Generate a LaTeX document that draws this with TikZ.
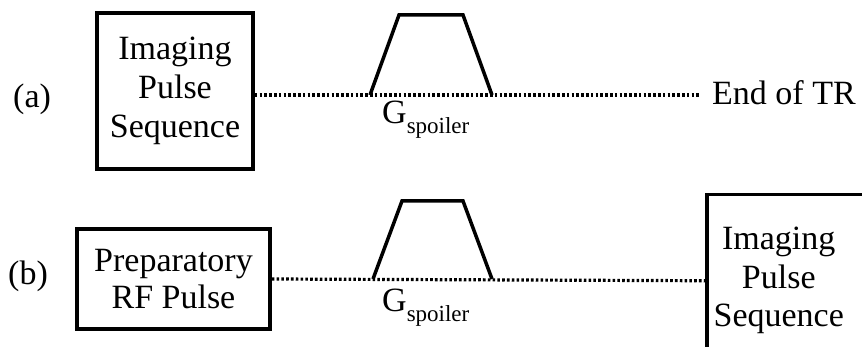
\documentclass[tikz,border=0pt]{standalone}
\usepackage{fontspec}
\setmainfont{Liberation Serif}
\begin{document}
\begin{tikzpicture}[x=1pt,y=1pt,
  big/.style={font=\fontsize{34}{39}\selectfont},
  boxnode/.style={draw, line width=3.5pt, big, align=center, inner sep=0pt},
  dotline/.style={line width=3.2pt, dash pattern=on 2.6pt off 2.2pt},
  trap/.style={line width=3.5pt, line join=miter},
  lbl/.style={big, anchor=base west, inner sep=0pt}]
\useasboundingbox (0,0) rectangle (862,347);
\clip (0,0) rectangle (862,347);
% (a)
\node[lbl] (la) at (13,239) {(a)};
\node[boxnode, minimum width=156pt, minimum height=156pt] (boxa) at (175,256)
  {Imaging\\Pulse\\Sequence};
\coordinate (enda) at (700,252);
\draw[dotline] (boxa.east |- enda) -- (enda);
\node[lbl] (endtr) at (712,242) {End of TR};
\coordinate (a1) at (370,252);
\coordinate (a2) at (399,332);
\coordinate (a3) at (463,332);
\coordinate (a4) at (492,252);
\draw[trap] (a1) -- (a2) -- (a3) -- (a4);
\node[lbl] (ga) at (382,223) {G\raisebox{-10pt}{\fontsize{23}{26}\selectfont spoiler}};
% (b)
\node[lbl] (lb) at (8,62) {(b)};
\node[boxnode, minimum width=193pt, minimum height=100pt, font=\fontsize{34}{37}\selectfont] (boxb) at (173.5,68)
  {Preparatory\\RF Pulse};
\node[draw, line width=3.5pt, big, inner sep=0pt, anchor=north west, minimum height=172pt] (img2) at (705,154)
  {\parbox{144pt}{\centering\fontsize{34}{38.5}\selectfont Imaging\\Pulse\\Sequence}\hspace*{40pt}};
\draw[dotline] (boxb.east) -- (img2.west);
\coordinate (b1) at (373,68);
\coordinate (b2) at (402,146);
\coordinate (b3) at (463,146);
\coordinate (b4) at (492,68);
\draw[trap] (b1) -- (b2) -- (b3) -- (b4);
\node[lbl] (gb) at (382,35) {G\raisebox{-10pt}{\fontsize{23}{26}\selectfont spoiler}};
\end{tikzpicture}
\end{document}
